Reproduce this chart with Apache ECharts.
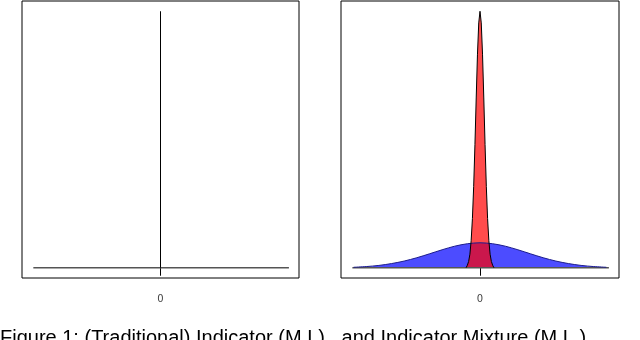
<!DOCTYPE html>
<html>
<head>
<meta charset="utf-8">
<script src="https://cdn.jsdelivr.net/npm/echarts@6/dist/echarts.min.js"></script>
<style>
  html, body { margin: 0; padding: 0; background: #fff; }
  #chart { width: 640px; height: 340px; }
</style>
</head>
<body>
<div id="chart"></div>
<script>
  // x positions of labelled ticks
  var tickValues = [0];
  // zero line drawn under each density
  var baseX = [-1.01, 1.02];
  var baseY = [0, 0];
  // left panel: degenerate density (a spike at 0)
  var spikeX = [0, 0];
  var spikeY = [0, 11];
  // right panel: wide blue density
  var blueX = [-1.0, -0.9, -0.8, -0.7, -0.6, -0.5, -0.4, -0.3, -0.2, -0.1, 0, 0.1, 0.2, 0.3, 0.4, 0.5, 0.6, 0.7, 0.8, 0.9, 1.0];
  var blueY = [0.02, 0.05, 0.1, 0.179, 0.287, 0.429, 0.597, 0.77, 0.925, 1.03, 1.07, 1.03, 0.925, 0.77, 0.597, 0.429, 0.287, 0.179, 0.1, 0.05, 0.02];
  // right panel: narrow red density
  var redX = [-0.11, -0.10, -0.09, -0.08, -0.07, -0.06, -0.05, -0.04, -0.03, -0.02, -0.01, 0, 0.01, 0.02, 0.03, 0.04, 0.05, 0.06, 0.07, 0.08, 0.09, 0.10, 0.11];
  var redY = [0.0, 0.11, 0.27, 0.58, 1.16, 2.11, 3.49, 5.28, 7.28, 9.16, 10.5, 11.0, 10.5, 9.16, 7.28, 5.28, 3.49, 2.11, 1.16, 0.58, 0.27, 0.11, 0.0];

  function pairs(xs, ys) {
    return xs.map(function (x, i) { return [x, ys[i]]; });
  }

  var chart = echarts.init(document.getElementById('chart'), null, { renderer: 'canvas' });

  function xAxisFor(idx) {
    return {
      type: 'value',
      gridIndex: idx,
      min: -1.1,
      max: 1.1,
      axisLine: { show: false },
      splitLine: { show: false },
      axisTick: { show: true, customValues: tickValues, length: 8, lineStyle: { color: '#000', width: 1 } },
      axisLabel: {
        show: true,
        customValues: tickValues,
        margin: 16,
        color: '#444',
        fontSize: 10,
        fontFamily: 'DejaVu Sans'
      }
    };
  }
  function yAxisFor(idx) {
    return {
      type: 'value',
      gridIndex: idx,
      min: -0.44,
      max: 11.44,
      show: false,
      splitLine: { show: false }
    };
  }

  var option = {
    animation: false,
    grid: [
      { left: 22, top: 1, width: 277, height: 277, show: true, borderColor: '#000', borderWidth: 1, backgroundColor: 'transparent' },
      { left: 341, top: 1, width: 278, height: 277, show: true, borderColor: '#000', borderWidth: 1, backgroundColor: 'transparent' }
    ],
    xAxis: [xAxisFor(0), xAxisFor(1)],
    yAxis: [yAxisFor(0), yAxisFor(1)],
    graphic: [{
      type: 'text',
      left: 0,
      top: 328,
      style: {
        text: 'Figure 1: (Traditional) Indicator (M.L)   and Indicator Mixture (M.L.)',
        fontSize: 20,
        fontFamily: 'Liberation Sans',
        fill: '#000'
      }
    }],
    series: [
      {
        type: 'line', xAxisIndex: 0, yAxisIndex: 0,
        data: pairs(baseX, baseY), symbol: 'none',
        lineStyle: { color: '#555', width: 1.5 }
      },
      {
        type: 'line', xAxisIndex: 0, yAxisIndex: 0,
        data: pairs(spikeX, spikeY), symbol: 'none',
        lineStyle: { color: '#000', width: 1 }
      },
      {
        type: 'line', xAxisIndex: 1, yAxisIndex: 1,
        data: pairs(baseX, baseY), symbol: 'none',
        lineStyle: { color: '#555', width: 1.5 }
      },
      {
        type: 'line', xAxisIndex: 1, yAxisIndex: 1,
        data: pairs(blueX, blueY), symbol: 'none', smooth: 0.3,
        lineStyle: { color: '#1c1c8c', width: 1 },
        areaStyle: { color: 'rgba(0,0,255,0.7)', opacity: 1 }
      },
      {
        type: 'line', xAxisIndex: 1, yAxisIndex: 1,
        data: pairs(redX, redY), symbol: 'none',
        lineStyle: { color: '#000', width: 1 },
        areaStyle: { color: 'rgba(255,0,0,0.7)', opacity: 1 }
      }
    ]
  };

  chart.setOption(option);
</script>
</body>
</html>
